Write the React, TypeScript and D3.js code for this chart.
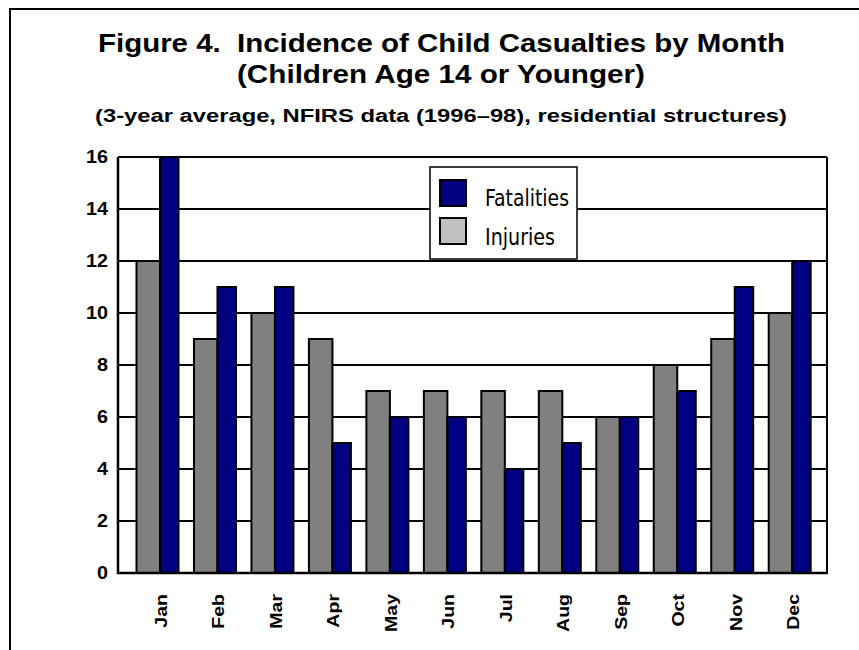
import React from "react";
import * as d3 from "d3";

const months = ["Jan", "Feb", "Mar", "Apr", "May", "Jun", "Jul", "Aug", "Sep", "Oct", "Nov", "Dec"];
const injuries = [12, 9, 10, 9, 7, 7, 7, 7, 6, 8, 9, 10];
const fatalities = [16, 11, 11, 5, 6, 6, 4, 5, 6, 7, 11, 12];
const yTicks = [0, 2, 4, 6, 8, 10, 12, 14, 16];
const titleLine1 = "Figure 4.  Incidence of Child Casualties by Month";
const titleLine2 = "(Children Age 14 or Younger)";
const subtitle = "(3-year average, NFIRS data (1996\u201398), residential structures)";
const seriesNames = ["Fatalities", "Injuries"];

const W = 859;
const H = 650;
const plot = { left: 118, right: 827, top: 157, bottom: 573 };

export default function App() {
  const x = d3.scalePoint<string>().domain(months).range([157.5, 789.7]);
  const y = d3.scaleLinear().domain([0, 16]).range([plot.bottom, plot.top]);
  const bold = "'Liberation Sans', Arial, sans-serif";
  const legendFont = "'Liberation Sans Narrow', 'DejaVu Sans Condensed', 'Liberation Sans', sans-serif";

  return (
    <svg width={W} height={H} style={{ position: "absolute", left: 0, top: 0, background: "#fff" }}>
      <rect x={0} y={0} width={W} height={H} fill="#fff" />
      {/* outer frame */}
      <path d={`M10,${H} L10,9 L${W + 5},9`} fill="none" stroke="#000" strokeWidth={2} />

      {/* titles */}
      <text x={98} y={52} fontFamily={bold} fontWeight="bold" fontSize={25} textLength={687} lengthAdjust="spacingAndGlyphs" style={{ whiteSpace: "pre" }}>
        {titleLine1}
      </text>
      <text x={237} y={83} fontFamily={bold} fontWeight="bold" fontSize={25} textLength={408} lengthAdjust="spacingAndGlyphs">
        {titleLine2}
      </text>
      <text x={95} y={122} fontFamily={bold} fontWeight="bold" fontSize={18} textLength={692} lengthAdjust="spacingAndGlyphs">
        {subtitle}
      </text>

      {/* gridlines */}
      {yTicks.map((t) => (
        <line key={"g" + t} x1={plot.left} x2={plot.right} y1={y(t)} y2={y(t)} stroke="#000" strokeWidth={2} />
      ))}

      {/* bars */}
      {months.map((m, i) => {
        const c = x(m) as number;
        return (
          <g key={m}>
            <rect x={c - 21} y={y(injuries[i])} width={23.5} height={y(0) - y(injuries[i])} fill="#808080" stroke="#000" strokeWidth={2} />
            <rect x={c + 2.5} y={y(fatalities[i])} width={18.5} height={y(0) - y(fatalities[i])} fill="#000080" stroke="#000" strokeWidth={2} />
          </g>
        );
      })}

      {/* plot border */}
      <line x1={plot.left} x2={plot.right} y1={plot.top} y2={plot.top} stroke="#000" strokeWidth={2} />
      <line x1={plot.right} x2={plot.right} y1={plot.top} y2={plot.bottom} stroke="#000" strokeWidth={2} />
      <line x1={plot.left} x2={plot.left} y1={plot.top} y2={plot.bottom + 1} stroke="#000" strokeWidth={2.5} />
      <line x1={plot.left - 1} x2={plot.right + 1} y1={plot.bottom} y2={plot.bottom} stroke="#000" strokeWidth={2.5} />

      {/* y tick labels */}
      {yTicks.map((t) => (
        <text key={"yl" + t} transform={`translate(108,${y(t)}) scale(1.1,1)`} textAnchor="end" dy="0.36em" fontFamily={bold} fontWeight="bold" fontSize={18}>
          {t}
        </text>
      ))}

      {/* x tick labels */}
      {months.map((m) => (
        <text key={"xl" + m} transform={`translate(${(x(m) as number) + 3.5 + 6},594) rotate(-90) scale(1.15,1)`} textAnchor="end" fontFamily={bold} fontWeight="bold" fontSize={17}>
          {m}
        </text>
      ))}

      {/* legend */}
      <rect x={430} y={167} width={147} height={92} fill="#fff" stroke="#000" strokeWidth={1.5} />
      <rect x={440} y={180} width={26} height={26} fill="#000080" stroke="#000" strokeWidth={2} />
      <rect x={440} y={218} width={26} height={26} fill="#C0C0C0" stroke="#000" strokeWidth={2} />
      <text x={485} y={205.5} fontFamily={legendFont} fontSize={23} textLength={84} lengthAdjust="spacingAndGlyphs">
        {seriesNames[0]}
      </text>
      <text x={485} y={244.5} fontFamily={legendFont} fontSize={23} textLength={70} lengthAdjust="spacingAndGlyphs">
        {seriesNames[1]}
      </text>
    </svg>
  );
}
